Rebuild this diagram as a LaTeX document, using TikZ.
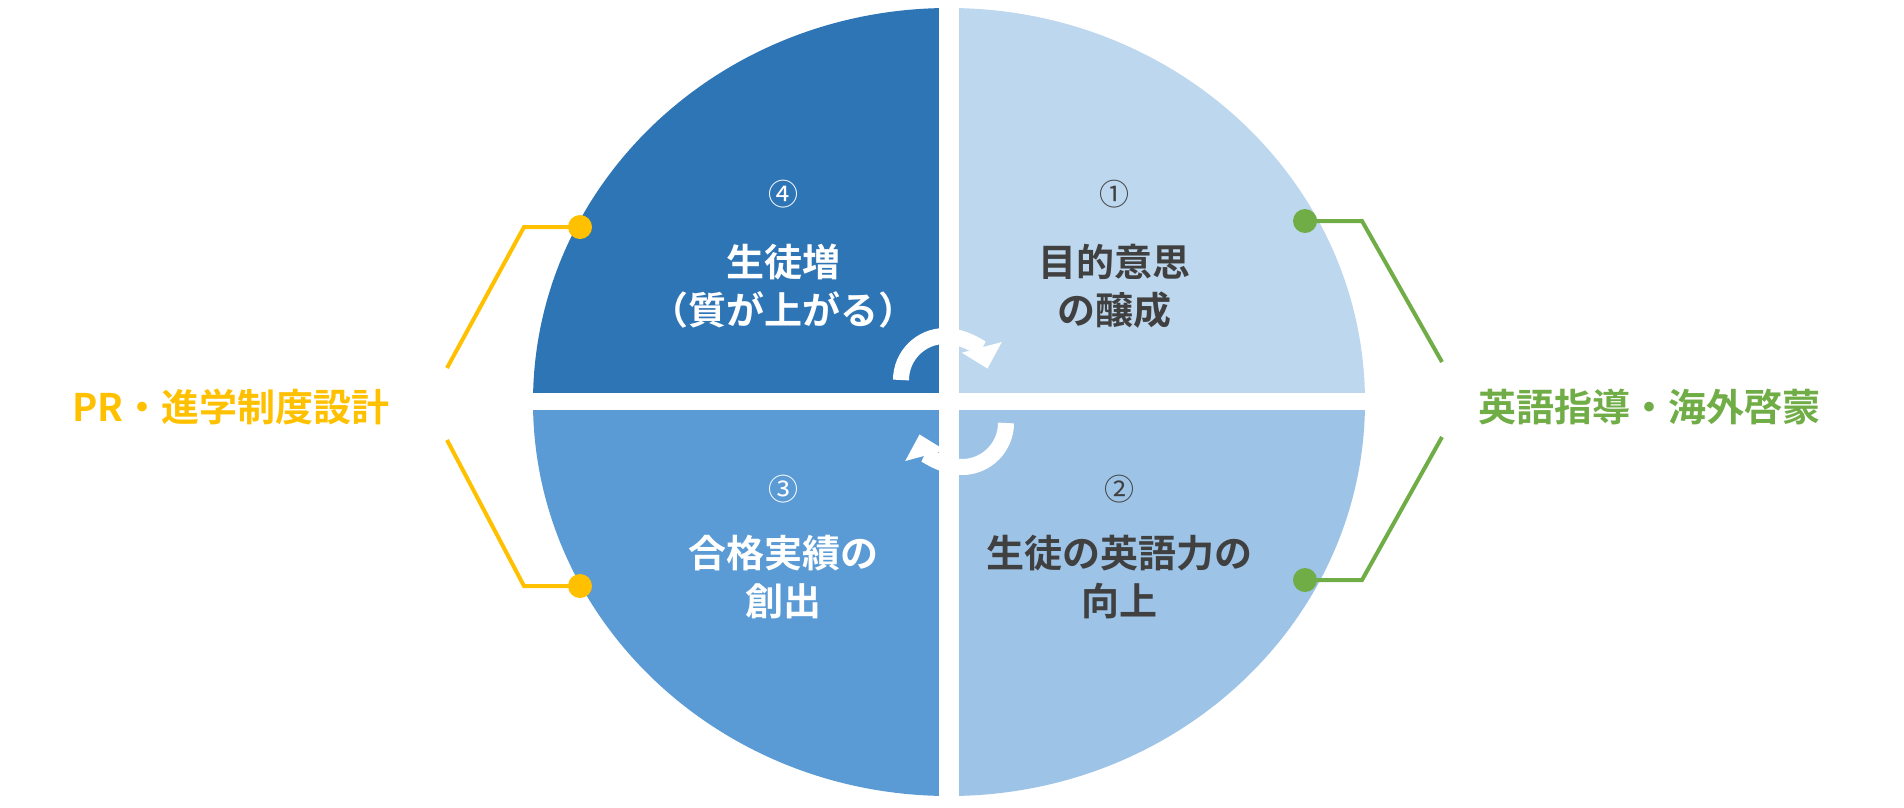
\documentclass[tikz,border=0pt]{standalone}
\usepackage{fontspec}
\setmainfont{Noto Sans CJK JP}[BoldFont={Noto Sans CJK JP Bold}]
\usetikzlibrary{arrows.meta}
\definecolor{qa}{HTML}{BDD7EE}
\definecolor{qb}{HTML}{9DC3E6}
\definecolor{qc}{HTML}{5B9BD5}
\definecolor{qd}{HTML}{2E75B6}
\definecolor{dk}{HTML}{404040}
\definecolor{yl}{HTML}{FFC000}
\definecolor{gr}{HTML}{70AD47}
\tikzset{
 qtext/.style={font=\bfseries\fontsize{38}{48}\selectfont, align=center},
 qnum/.style={font=\fontsize{30}{34}\selectfont},
 side/.style={font=\bfseries\fontsize{38}{44}\selectfont},
 brk/.style={line width=4pt, line join=miter},
 cyc/.style={white, line width=16pt, -{Triangle[length=22pt,width=40pt]}}
}
\begin{document}
\begin{tikzpicture}[x=1pt,y=-1pt]
\useasboundingbox (0,0) rectangle (1904,807);
\def\E{(949,402) ellipse [x radius=416, y radius=394]}
\begin{scope}\clip (949,0) rectangle (1904,402); \fill[qa] \E; \end{scope}
\begin{scope}\clip (949,402) rectangle (1904,807); \fill[qb] \E; \end{scope}
\begin{scope}\clip (0,402) rectangle (949,807); \fill[qc] \E; \end{scope}
\begin{scope}\clip (0,0) rectangle (949,402); \fill[qd] \E; \end{scope}
\fill[white] (939,0) rectangle (959,807);
\fill[white] (500,393) rectangle (1400,410);
% cycle arrows
\draw[cyc] (901,380) arc[start angle=180, end angle=345, radius=44];
\draw[cyc] (1006,423) arc[start angle=0, end angle=165, radius=44];
% texts
\node[qnum, white] (n4) at (783,194) {④};
\node[qtext, white] (t4) at (783,286) {生徒増\\（質が上がる）};
\node[qnum, dk] (n1) at (1114,194) {①};
\node[qtext, dk] (t1) at (1114,286) {目的意思\\の醸成};
\node[qnum, white] (n3) at (783,489) {③};
\node[qtext, white] (t3) at (783,577) {合格実績の\\創出};
\node[qnum, dk] (n2) at (1119,489) {②};
\node[qtext, dk] (t2) at (1119,577) {生徒の英語力の\\向上};
% left bracket
\node[side, yl] (pr) at (231,407) {PR・進学制度設計};
\coordinate (ya) at (580,227); \coordinate (yb) at (580,586);
\draw[brk, yl] (ya) -- (524,227) -- (447,368);
\draw[brk, yl] (yb) -- (524,586) -- (447,440);
\fill[yl] (ya) circle (12); \fill[yl] (yb) circle (12);
% right bracket
\node[side, gr] (en) at (1649,407) {英語指導・海外啓蒙};
\coordinate (ga) at (1305,221); \coordinate (gb) at (1305,580);
\draw[brk, gr] (ga) -- (1362,221) -- (1442,362);
\draw[brk, gr] (gb) -- (1362,580) -- (1442,437);
\fill[gr] (ga) circle (12); \fill[gr] (gb) circle (12);
\end{tikzpicture}
\end{document}
